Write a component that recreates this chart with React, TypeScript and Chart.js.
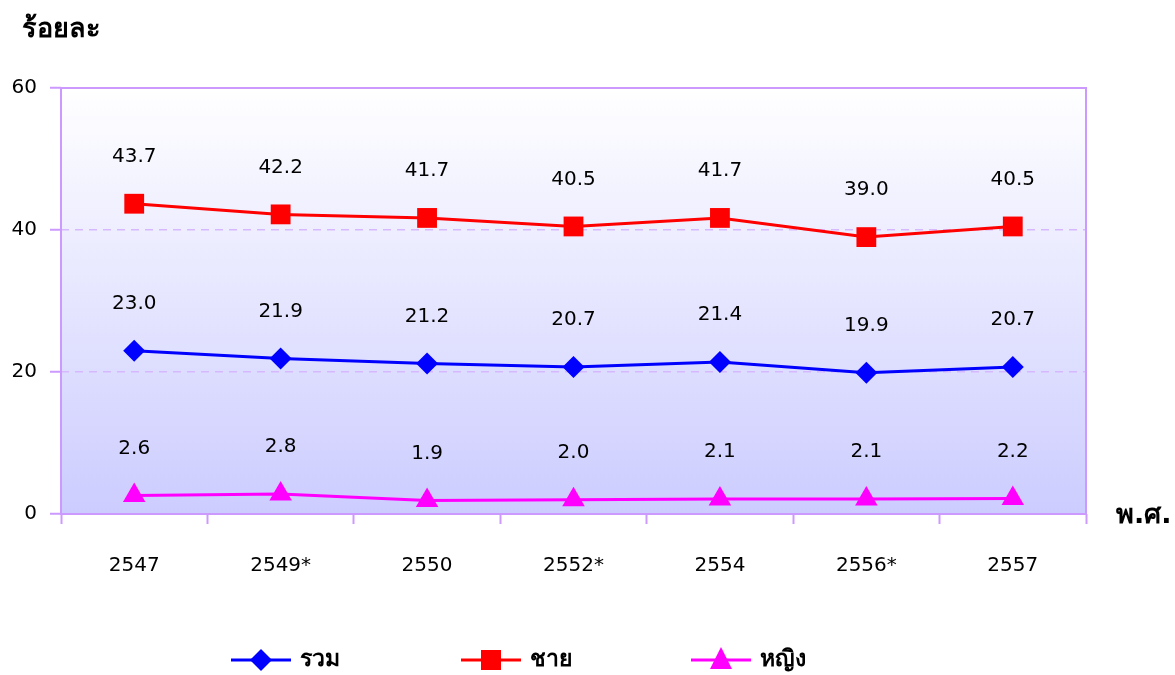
import React, { useEffect, useRef } from "react";
import { Chart, registerables } from "chart.js";

Chart.register(...registerables);

const categories = ["2547", "2549*", "2550", "2552*", "2554", "2556*", "2557"];
const totalValues = [23.0, 21.9, 21.2, 20.7, 21.4, 19.9, 20.7];
const maleValues = [43.7, 42.2, 41.7, 40.5, 41.7, 39.0, 40.5];
const femaleValues = [2.6, 2.8, 1.9, 2.0, 2.1, 2.1, 2.2];
const seriesNames = ["รวม", "ชาย", "หญิง"];
const yTitle = "ร้อยละ";
const xTitle = "พ.ศ.";

const FONT = "'DejaVu Sans', Tahoma, 'Noto Sans', sans-serif";
const AXIS = "#cc99ff";

function drawMarker(ctx: CanvasRenderingContext2D, style: string, x: number, y: number, color: string) {
  ctx.save();
  ctx.fillStyle = color;
  ctx.beginPath();
  if (style === "rectRot") {
    ctx.moveTo(x - 11, y);
    ctx.lineTo(x, y - 11);
    ctx.lineTo(x + 11, y);
    ctx.lineTo(x, y + 11);
  } else if (style === "rect") {
    ctx.rect(x - 10, y - 10, 20, 20);
  } else {
    ctx.moveTo(x, y - 13);
    ctx.lineTo(x + 11, y + 9);
    ctx.lineTo(x - 11, y + 9);
  }
  ctx.closePath();
  ctx.fill();
  ctx.restore();
}

const customPlugin = {
  id: "custom",
  beforeDraw(chart: any) {
    const { ctx, chartArea: a } = chart;
    ctx.save();
    const g = ctx.createLinearGradient(0, a.top, 0, a.bottom);
    g.addColorStop(0, "#ffffff");
    g.addColorStop(1, "#ccccff");
    ctx.fillStyle = g;
    ctx.fillRect(a.left, a.top, a.right - a.left, a.bottom - a.top);
    ctx.restore();
  },
  beforeDatasetsDraw(chart: any) {
    const { ctx, chartArea: a } = chart;
    ctx.save();
    ctx.strokeStyle = AXIS;
    ctx.lineWidth = 2;
    ctx.strokeRect(a.left, a.top, a.right - a.left, a.bottom - a.top);
    ctx.restore();
  },
  afterDatasetsDraw(chart: any) {
    const { ctx } = chart;
    ctx.save();
    ctx.font = `20px ${FONT}`;
    ctx.fillStyle = "#000";
    ctx.textAlign = "center";
    ctx.textBaseline = "middle";
    chart.data.datasets.forEach((ds: any, i: number) => {
      const meta = chart.getDatasetMeta(i);
      meta.data.forEach((pt: any, j: number) => {
        ctx.fillText(Number(ds.data[j]).toFixed(1), pt.x, pt.y - 47);
      });
    });
    ctx.restore();
  },
  afterDraw(chart: any) {
    const { ctx, chartArea: a } = chart;
    ctx.save();
    ctx.fillStyle = "#000";
    ctx.font = `bold 27px ${FONT}`;
    ctx.textAlign = "left";
    ctx.textBaseline = "middle";
    ctx.fillText(yTitle, 22, 30);
    ctx.font = `bold 27px ${FONT}`;
    ctx.fillText(xTitle, a.right + 30, a.bottom + 2);
    // legend
    const centers = [261, 491, 721];
    const ly = 660;
    chart.data.datasets.forEach((ds: any, i: number) => {
      const cx = centers[i];
      ctx.strokeStyle = ds.borderColor;
      ctx.lineWidth = 3;
      ctx.beginPath();
      ctx.moveTo(cx - 30, ly);
      ctx.lineTo(cx + 30, ly);
      ctx.stroke();
      drawMarker(ctx, ds.pointStyle, cx, ly, ds.borderColor);
      ctx.fillStyle = "#000";
      ctx.font = `bold 23px ${FONT}`;
      ctx.fillText(ds.label, cx + 39, ly);
    });
    ctx.restore();
  },
};

export default function App() {
  const ref = useRef<HTMLCanvasElement>(null);
  useEffect(() => {
    document.body.style.margin = "0";
    const chart = new Chart(ref.current!, {
      type: "line",
      data: {
        labels: categories,
        datasets: [
          {
            label: seriesNames[0],
            data: totalValues,
            borderColor: "#0000ff",
            backgroundColor: "#0000ff",
            pointStyle: "rectRot",
            pointRadius: 11,
            pointHoverRadius: 11,
            borderWidth: 3,
            pointBorderWidth: 0,
          },
          {
            label: seriesNames[1],
            data: maleValues,
            borderColor: "#ff0000",
            backgroundColor: "#ff0000",
            pointStyle: "rect",
            pointRadius: 14,
            pointHoverRadius: 14,
            borderWidth: 3,
            pointBorderWidth: 0,
          },
          {
            label: seriesNames[2],
            data: femaleValues,
            borderColor: "#ff00ff",
            backgroundColor: "#ff00ff",
            pointStyle: "triangle",
            pointRadius: 13,
            pointHoverRadius: 13,
            borderWidth: 3,
            pointBorderWidth: 0,
          },
        ],
      },
      options: {
        animation: false,
        responsive: false,
        events: [],
        layout: { padding: { top: 88, right: 89, left: 0, bottom: 0 } },
        plugins: { legend: { display: false }, tooltip: { enabled: false } },
        scales: {
          x: {
            type: "category",
            offset: true,
            grid: {
              offset: true,
              drawOnChartArea: false,
              tickLength: 10,
              tickColor: AXIS,
              tickWidth: 2,
            },
            border: { display: false },
            ticks: { font: { family: FONT, size: 20 }, color: "#000", padding: 30 },
            afterFit: (s: any) => {
              s.height = 161;
            },
          },
          y: {
            min: 0,
            max: 60,
            ticks: { stepSize: 20, font: { family: FONT, size: 20 }, color: "#000", padding: 13 },
            grid: {
              color: (c: any) => (c.tick && (c.tick.value === 20 || c.tick.value === 40) ? "#d6b8ff" : "rgba(0,0,0,0)"),
              lineWidth: 1.5,
              tickLength: 11,
              tickColor: AXIS,
              tickWidth: 2,
              tickBorderDash: [],
            },
            border: { display: false, dash: [8, 6] },
            afterFit: (s: any) => {
              s.width = 61;
            },
          },
        },
      },
      plugins: [customPlugin],
    });
    return () => chart.destroy();
  }, []);
  return <canvas ref={ref} width={1175} height={675} style={{ display: "block" }} />;
}
